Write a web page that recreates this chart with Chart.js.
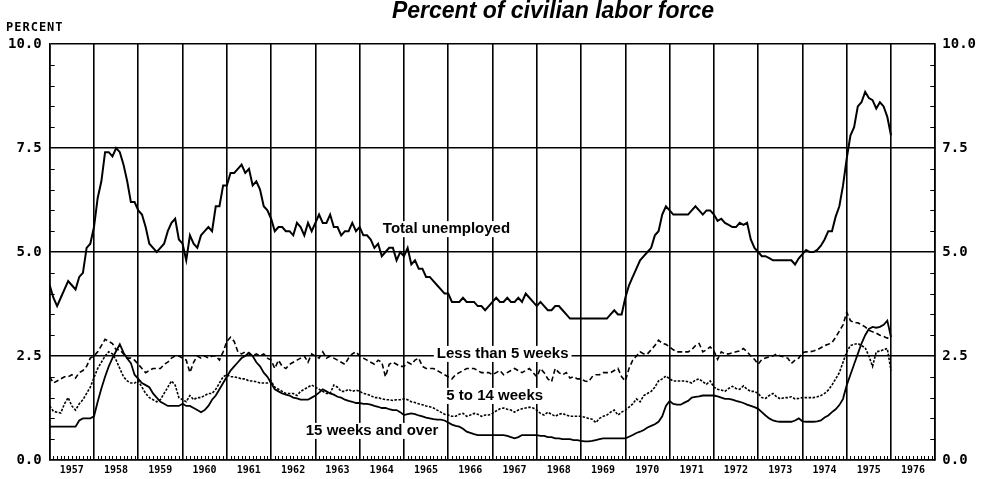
<!DOCTYPE html>
<html>
<head>
<meta charset="utf-8">
<title>Percent of civilian labor force</title>
<script src="https://cdn.jsdelivr.net/npm/chart.js@4.4.1/dist/chart.umd.min.js"></script>
<style>
html, body { margin: 0; padding: 0; background: #fff; }
#wrap { width: 983px; height: 479px; }
</style>
</head>
<body>
<div id="wrap"><canvas id="chart" width="983" height="479"></canvas></div>
<script>
// monthly data, Jan 1957 .. Jan 1976
var startYear = 1957;
var yearLabels = [1957, 1958, 1959, 1960, 1961, 1962, 1963, 1964, 1965, 1966,
                  1967, 1968, 1969, 1970, 1971, 1972, 1973, 1974, 1975, 1976];
var yTicks = [0, 2.5, 5, 7.5, 10];

var total = [
  4.2, 3.9, 3.7, 3.9, 4.1, 4.3, 4.2, 4.1, 4.4, 4.5, 5.1, 5.2,
  5.6, 6.3, 6.7, 7.4, 7.4, 7.3, 7.5, 7.4, 7.1, 6.7, 6.2, 6.2,
  6.0, 5.9, 5.6, 5.2, 5.1, 5.0, 5.1, 5.2, 5.5, 5.7, 5.8, 5.3,
  5.2, 4.8, 5.4, 5.2, 5.1, 5.4, 5.5, 5.6, 5.5, 6.1, 6.1, 6.6,
  6.6, 6.9, 6.9, 7.0, 7.1, 6.9, 7.0, 6.6, 6.7, 6.5, 6.1, 6.0,
  5.8, 5.5, 5.6, 5.6, 5.5, 5.5, 5.4, 5.7, 5.6, 5.4, 5.7, 5.5,
  5.7, 5.9, 5.7, 5.7, 5.9, 5.6, 5.6, 5.4, 5.5, 5.5, 5.7, 5.5,
  5.6, 5.4, 5.4, 5.3, 5.1, 5.2, 4.9, 5.0, 5.1, 5.1, 4.8, 5.0,
  4.9, 5.1, 4.7, 4.8, 4.6, 4.6, 4.4, 4.4, 4.3, 4.2, 4.1, 4.0,
  4.0, 3.8, 3.8, 3.8, 3.9, 3.8, 3.8, 3.8, 3.7, 3.7, 3.6, 3.7,
  3.8, 3.9, 3.8, 3.8, 3.9, 3.8, 3.8, 3.9, 3.8, 4.0, 3.9, 3.8,
  3.7, 3.8, 3.7, 3.6, 3.6, 3.7, 3.7, 3.6, 3.5, 3.4, 3.4, 3.4,
  3.4, 3.4, 3.4, 3.4, 3.4, 3.4, 3.4, 3.4, 3.5, 3.6, 3.5, 3.5,
  3.9, 4.2, 4.4, 4.6, 4.8, 4.9, 5.0, 5.1, 5.4, 5.5, 5.9, 6.1,
  6.0, 5.9, 5.9, 5.9, 5.9, 5.9, 6.0, 6.1, 6.0, 5.9, 6.0, 6.0,
  5.9, 5.75, 5.8, 5.7, 5.65, 5.6, 5.6, 5.7, 5.65, 5.7, 5.3, 5.1,
  5.0, 4.9, 4.9, 4.85, 4.8, 4.8, 4.8, 4.8, 4.8, 4.8, 4.7, 4.85,
  4.95, 5.05, 5.0, 5.0, 5.05, 5.15, 5.3, 5.5, 5.5, 5.85, 6.1, 6.6,
  7.25, 7.8, 8.0, 8.5, 8.6, 8.85, 8.7, 8.65, 8.45, 8.6, 8.5, 8.25,
  7.8
];

var under5 = [
  2.0, 1.85, 1.9, 1.95, 2.0, 2.0, 2.05, 1.97, 2.1, 2.15, 2.25, 2.45,
  2.5, 2.6, 2.75, 2.9, 2.85, 2.8, 2.65, 2.65, 2.55, 2.45, 2.45, 2.4,
  2.3, 2.2, 2.1, 2.15, 2.2, 2.2, 2.2, 2.3, 2.35, 2.45, 2.5, 2.5,
  2.45, 2.4, 2.1, 2.35, 2.5, 2.45, 2.5, 2.45, 2.5, 2.5, 2.4, 2.6,
  2.85, 2.95, 2.85, 2.6, 2.55, 2.6, 2.55, 2.5, 2.55, 2.5, 2.55, 2.45,
  2.4, 2.2, 2.4, 2.25, 2.2, 2.3, 2.35, 2.4, 2.45, 2.5, 2.35, 2.55,
  2.5, 2.45, 2.6, 2.45, 2.5, 2.45, 2.4, 2.35, 2.3, 2.45, 2.55, 2.6,
  2.5, 2.45, 2.4, 2.35, 2.3, 2.4, 2.35, 2.0, 2.3, 2.35, 2.3, 2.25,
  2.25, 2.35, 2.3, 2.4, 2.45, 2.25, 2.2, 2.2, 2.2, 2.15, 2.1, 2.05,
  2.0, 1.95, 2.05, 2.1, 2.15, 2.2, 2.2, 2.2, 2.15, 2.1, 2.1, 2.1,
  2.05, 2.1, 2.15, 2.05, 2.1, 2.15, 2.2, 2.15, 2.1, 2.15, 2.2, 2.1,
  2.0, 2.2, 2.1, 1.95, 1.88, 2.2, 2.1, 2.05, 2.1, 1.97, 2.0, 1.95,
  1.95, 1.9, 1.88, 2.0, 2.05, 2.05, 2.1, 2.1, 2.1, 2.15, 2.2, 2.0,
  1.9, 2.2, 2.4, 2.5, 2.6, 2.55, 2.55, 2.65, 2.75, 2.88, 2.8, 2.78,
  2.72, 2.65, 2.6, 2.6, 2.6, 2.6, 2.65, 2.75, 2.8, 2.6, 2.65, 2.72,
  2.62, 2.42, 2.6, 2.55, 2.55, 2.58, 2.6, 2.62, 2.68, 2.6, 2.5, 2.42,
  2.3, 2.42, 2.45, 2.48, 2.5, 2.55, 2.5, 2.48, 2.45, 2.32, 2.4, 2.45,
  2.58, 2.6, 2.6, 2.62, 2.65, 2.7, 2.75, 2.78, 2.82, 2.95, 3.1, 3.25,
  3.55, 3.35, 3.3, 3.3, 3.25, 3.2, 3.12, 3.08, 3.05, 3.0, 2.97, 2.93,
  2.95
];

var weeks5to14 = [
  1.3, 1.17, 1.15, 1.13, 1.35, 1.5, 1.3, 1.2, 1.35, 1.45, 1.6, 1.75,
  1.98, 2.2, 2.35, 2.5, 2.6, 2.55, 2.4, 2.2, 2.0, 1.9, 1.85, 1.85,
  1.9, 1.75, 1.6, 1.5, 1.45, 1.4, 1.45, 1.6, 1.75, 1.9, 1.8, 1.5,
  1.45, 1.4, 1.55, 1.45, 1.5, 1.5, 1.55, 1.6, 1.6, 1.7, 1.85, 2.0,
  2.05, 2.0, 2.0, 1.98, 1.95, 1.95, 1.9, 1.9, 1.88, 1.85, 1.85, 1.85,
  1.9, 1.75, 1.7, 1.65, 1.6, 1.6, 1.6, 1.55, 1.65, 1.7, 1.75, 1.8,
  1.75, 1.7, 1.65, 1.6, 1.6, 1.8, 1.75, 1.65, 1.65, 1.7, 1.65, 1.68,
  1.65, 1.6, 1.58, 1.55, 1.5, 1.5, 1.47, 1.45, 1.45, 1.43, 1.45, 1.45,
  1.47, 1.45, 1.4, 1.38, 1.35, 1.33, 1.3, 1.28, 1.25, 1.2, 1.15, 1.1,
  1.08, 1.05, 1.05, 1.1, 1.12, 1.05, 1.08, 1.12, 1.1, 1.05, 1.08, 1.08,
  1.12, 1.18, 1.23, 1.25, 1.22, 1.2, 1.15, 1.2, 1.23, 1.25, 1.27, 1.25,
  1.2, 1.12, 1.08, 1.15, 1.1, 1.05, 1.1, 1.12, 1.08, 1.05, 1.05, 1.05,
  1.05, 1.03, 1.0, 0.98, 0.9, 1.0, 1.05, 1.08, 1.15, 1.2, 1.08, 1.15,
  1.2, 1.27, 1.35, 1.47, 1.4, 1.55, 1.6, 1.65, 1.75, 1.9, 1.95, 2.02,
  1.95, 1.9, 1.9, 1.9, 1.9, 1.88, 1.85, 1.92, 1.95, 1.88, 1.82, 1.9,
  1.75, 1.7, 1.68, 1.65, 1.72, 1.77, 1.72, 1.7, 1.78, 1.7, 1.65, 1.65,
  1.6, 1.5, 1.48, 1.55, 1.6, 1.52, 1.47, 1.5, 1.5, 1.52, 1.47, 1.48,
  1.5, 1.5, 1.5, 1.5, 1.52, 1.55, 1.6, 1.68, 1.8, 1.95, 2.1, 2.35,
  2.6, 2.75, 2.78, 2.8, 2.75, 2.7, 2.5, 2.25, 2.6, 2.62, 2.65, 2.68,
  2.15
];

var weeks15plus = [
  0.8, 0.8, 0.8, 0.8, 0.8, 0.8, 0.8, 0.8, 0.95, 1.0, 1.0, 1.0,
  1.05, 1.4, 1.72, 2.0, 2.25, 2.45, 2.62, 2.78, 2.58, 2.44, 2.33, 2.05,
  1.95, 1.85, 1.8, 1.75, 1.6, 1.5, 1.4, 1.35, 1.3, 1.3, 1.3, 1.3,
  1.35, 1.3, 1.3, 1.25, 1.2, 1.15, 1.2, 1.3, 1.45, 1.55, 1.7, 1.85,
  2.0, 2.15, 2.25, 2.35, 2.45, 2.5, 2.58, 2.5, 2.35, 2.25, 2.1, 2.0,
  1.85, 1.7, 1.65, 1.6, 1.57, 1.55, 1.5, 1.48, 1.45, 1.45, 1.45, 1.5,
  1.55, 1.62, 1.7, 1.65, 1.6, 1.57, 1.52, 1.5, 1.45, 1.42, 1.4, 1.37,
  1.37, 1.35, 1.35, 1.33, 1.3, 1.28, 1.25, 1.25, 1.22, 1.2, 1.2, 1.15,
  1.08, 1.1, 1.12, 1.1, 1.07, 1.05, 1.02, 1.0, 0.98, 0.97, 0.97, 0.95,
  0.9, 0.85, 0.82, 0.8, 0.75, 0.68, 0.65, 0.62, 0.6, 0.6, 0.6, 0.6,
  0.6, 0.6, 0.6, 0.6, 0.58, 0.55, 0.52, 0.55, 0.6, 0.6, 0.6, 0.6,
  0.6, 0.58, 0.58, 0.55, 0.55, 0.52, 0.52, 0.5, 0.5, 0.5, 0.48, 0.48,
  0.46, 0.45, 0.45, 0.46, 0.48, 0.5, 0.52, 0.52, 0.52, 0.52, 0.52, 0.52,
  0.52, 0.56, 0.6, 0.65, 0.68, 0.72, 0.78, 0.82, 0.86, 0.92, 1.05, 1.3,
  1.42, 1.35, 1.33, 1.33, 1.38, 1.42, 1.5, 1.52, 1.53, 1.55, 1.55, 1.55,
  1.55, 1.53, 1.5, 1.47, 1.47, 1.45, 1.42, 1.4, 1.37, 1.33, 1.3, 1.27,
  1.23, 1.15, 1.07, 1.0, 0.95, 0.93, 0.92, 0.92, 0.92, 0.92, 0.95, 1.0,
  0.93, 0.92, 0.92, 0.92, 0.93, 0.95, 1.02, 1.07, 1.15, 1.22, 1.32, 1.47,
  1.8, 2.05, 2.3, 2.55, 2.8, 3.0, 3.15, 3.2, 3.18, 3.2, 3.25, 3.35,
  2.95
];

// series labels placed in data units
var notes = [
  { text: 'Total unemployed', x: 1965.96, y: 5.55 },
  { text: 'Less than 5 weeks', x: 1967.23, y: 2.55 },
  { text: '5 to 14 weeks', x: 1967.05, y: 1.54 },
  { text: '15 weeks and over', x: 1964.28, y: 0.70 }
];

function points(vals) {
  return vals.map(function (v, i) { return { x: startYear + i / 12, y: v }; });
}

var monoFont = '"DejaVu Sans Mono", "Liberation Mono", monospace';
var sansFont = '"Liberation Sans", Arial, Helvetica, sans-serif';

var extras = {
  id: 'extras',
  beforeDatasetsDraw: function (chart) {
    var ctx = chart.ctx, xs = chart.scales.x, ys = chart.scales.y, a = chart.chartArea;
    ctx.save();
    ctx.strokeStyle = '#000';
    ctx.lineWidth = 1;
    ctx.beginPath();
    // month ticks on the bottom axis
    for (var m = 1; m < 240; m++) {
      if (m % 12 === 0) continue;
      var px = Math.round(xs.getPixelForValue(startYear + m / 12)) + 0.5;
      ctx.moveTo(px, a.bottom);
      ctx.lineTo(px, a.bottom - 4);
    }
    // half-point ticks on both value axes
    for (var k = 1; k < 20; k++) {
      if (k % 5 === 0) continue;
      var py = Math.round(ys.getPixelForValue(k / 2)) + 0.5;
      ctx.moveTo(a.left, py); ctx.lineTo(a.left + 5, py);
      ctx.moveTo(a.right, py); ctx.lineTo(a.right - 5, py);
    }
    ctx.stroke();
    ctx.restore();
  },
  afterDatasetsDraw: function (chart) {
    var ctx = chart.ctx, xs = chart.scales.x, ys = chart.scales.y;
    ctx.save();
    ctx.font = 'bold 15px ' + sansFont;
    ctx.textAlign = 'center';
    ctx.textBaseline = 'middle';
    notes.forEach(function (n) {
      var px = xs.getPixelForValue(n.x), py = ys.getPixelForValue(n.y);
      var w = ctx.measureText(n.text).width;
      ctx.fillStyle = '#fff';
      ctx.fillRect(px - w / 2 - 3, py - 8, w + 6, 16);
      ctx.fillStyle = '#000';
      ctx.fillText(n.text, px, py);
    });
    ctx.restore();
  },
  afterDraw: function (chart) {
    var ctx = chart.ctx;
    ctx.save();
    ctx.fillStyle = '#000';
    ctx.textBaseline = 'middle';
    ctx.textAlign = 'center';
    ctx.font = 'italic bold 23px ' + sansFont;
    ctx.fillText('Percent of civilian labor force', 553, 12);
    ctx.textAlign = 'left';
    ctx.font = 'bold 12px ' + monoFont;
    ctx.letterSpacing = '1px';
    ctx.fillText('PERCENT', 6, 28);
    ctx.restore();
  }
};

// Chart.js reserves twice the tick padding beside the labels
var yAxis = function (pos, pad) {
  return {
    type: 'linear',
    position: pos,
    min: 0,
    max: 10,
    afterBuildTicks: function (axis) {
      axis.ticks = yTicks.map(function (v) { return { value: v }; });
    },
    grid: {
      display: pos === 'left',
      drawOnChartArea: pos === 'left',
      color: '#000',
      lineWidth: 1.6,
      drawTicks: false,
      tickLength: 0
    },
    border: { display: true, color: '#000', width: 1.6 },
    ticks: {
      padding: pad,
      color: '#000',
      font: { family: monoFont, size: 14, weight: 'bold' },
      callback: function (v) { return v.toFixed(1); }
    }
  };
};

new Chart(document.getElementById('chart'), {
  type: 'line',
  data: {
    datasets: [
      { label: 'Total unemployed', data: points(total), borderColor: '#000', borderWidth: 2 },
      { label: 'Less than 5 weeks', data: points(under5), borderColor: '#000', borderWidth: 1.6, borderDash: [5, 3] },
      { label: '5 to 14 weeks', data: points(weeks5to14), borderColor: '#000', borderWidth: 1.6, borderDash: [2.5, 1.5] },
      { label: '15 weeks and over', data: points(weeks15plus), borderColor: '#000', borderWidth: 1.8 }
    ]
  },
  options: {
    responsive: false,
    animation: false,
    devicePixelRatio: 1,
    elements: { point: { radius: 0 }, line: { tension: 0, fill: false } },
    layout: { padding: { left: 0, right: 0, top: 44, bottom: -1 } },
    plugins: { legend: { display: false }, tooltip: { enabled: false }, title: { display: false } },
    scales: {
      x: {
        type: 'linear',
        position: 'bottom',
        min: 1957,
        max: 1977,
        afterBuildTicks: function (axis) {
          axis.ticks = yearLabels.concat([1977]).map(function (v) { return { value: v }; });
        },
        grid: { color: '#000', lineWidth: 1.6, drawTicks: false, tickLength: 0 },
        border: { display: true, color: '#000', width: 1.6 },
        ticks: {
          padding: 5,
          autoSkip: false,
          maxRotation: 0,
          labelOffset: 22,
          color: '#000',
          font: { family: monoFont, size: 10, weight: 'bold', lineHeight: 1 },
          callback: function (v) { return v < 1977 ? String(v) : ''; }
        }
      },
      y: yAxis('left', 8),
      y2: yAxis('right', 7)
    }
  },
  plugins: [extras]
});
</script>
</body>
</html>
